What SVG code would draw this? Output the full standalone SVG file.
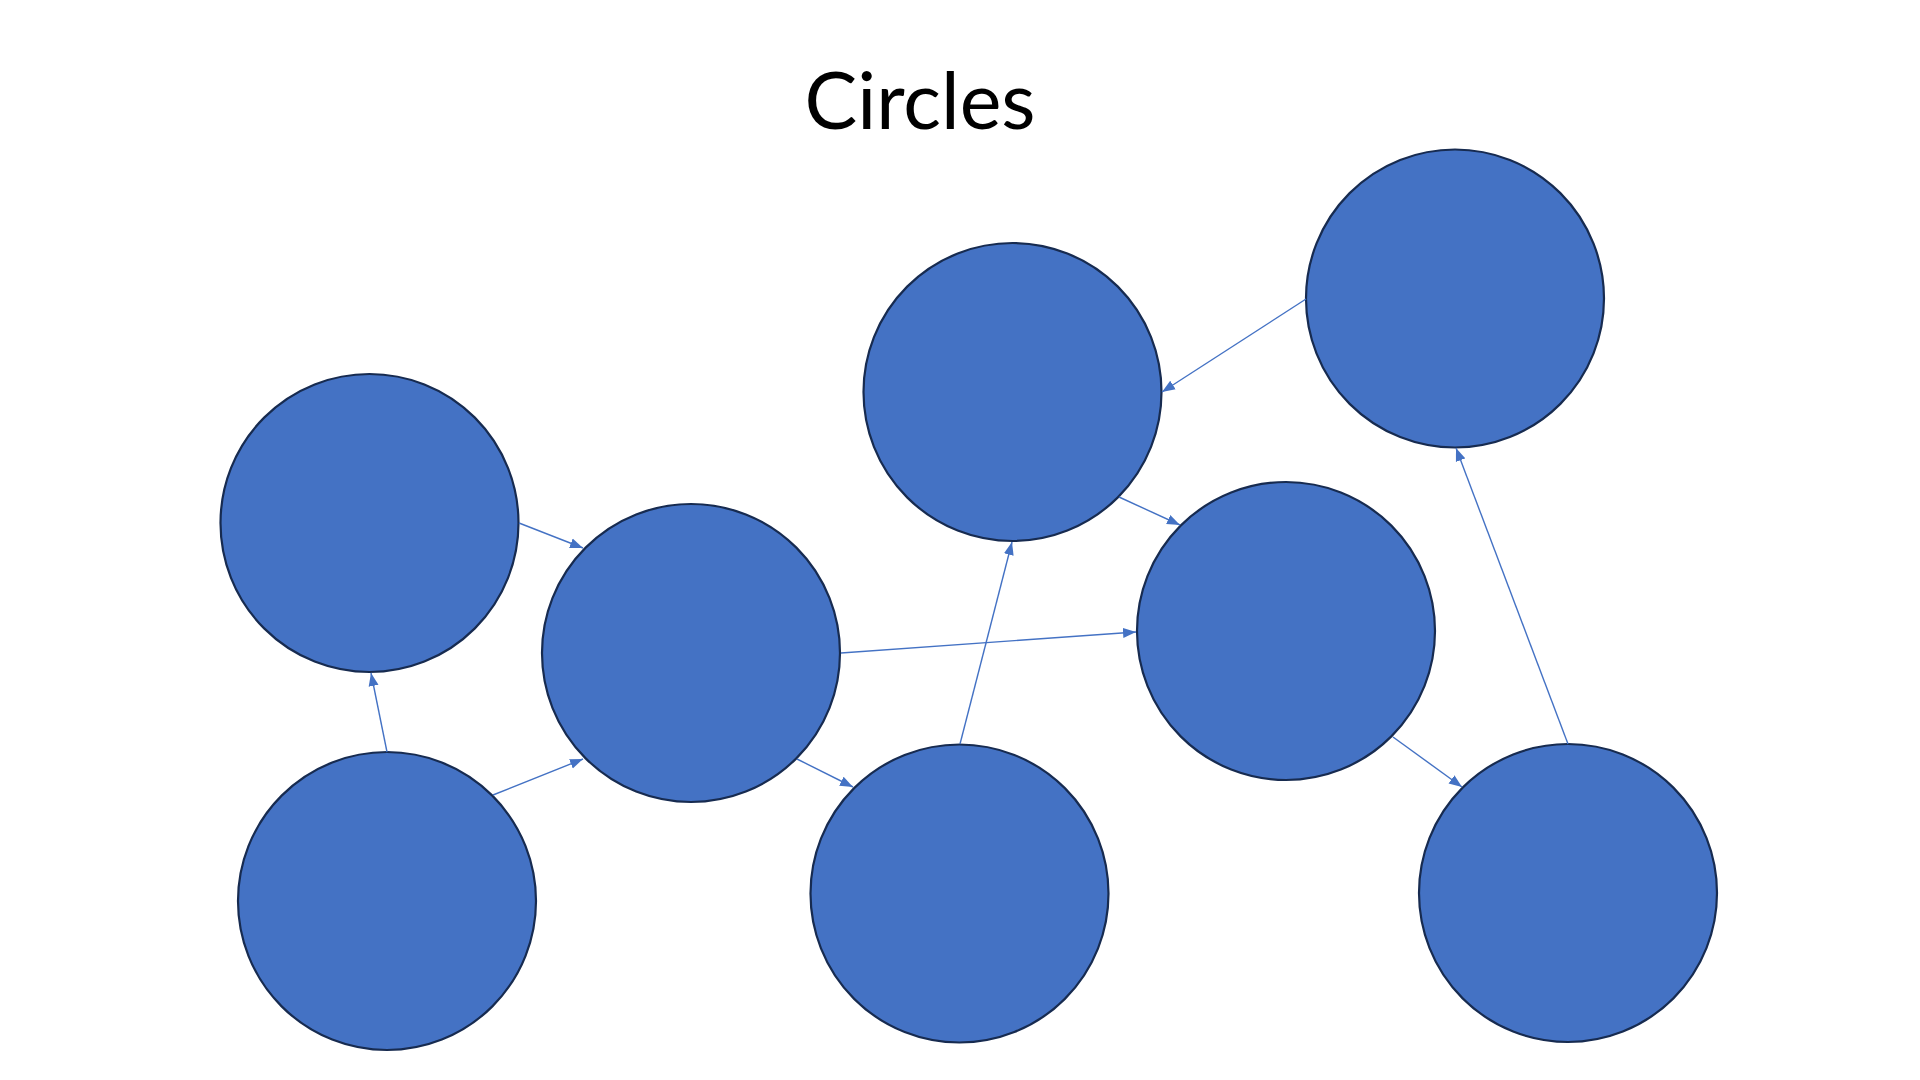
<svg xmlns="http://www.w3.org/2000/svg" width="1920" height="1080" viewBox="0 0 1920 1080">
<style>
.node{fill:#4472C4;stroke:#172B50;stroke-width:2.2}
.edge{stroke:#4472C4;stroke-width:1.4;fill:none;marker-end:url(#arr)}
.title{font-family:Lato,"Open Sans","Liberation Sans",sans-serif;font-weight:400;font-size:79px;fill:#000}
</style>
<defs>
<marker id="arr" markerUnits="userSpaceOnUse" markerWidth="14" markerHeight="11" refX="13" refY="5" orient="auto" viewBox="0 0 14 10">
<path d="M0,0 L13,5 L0,10 z" fill="#4472C4"/>
</marker>
</defs>
<rect width="1920" height="1080" fill="#fff"/>
<text class="title" x="920" y="129" text-anchor="middle">Circles</text>
<g id="n1"><circle class="node" cx="369.5" cy="523" r="149"/></g>
<g id="n2"><circle class="node" cx="691" cy="653" r="149"/></g>
<g id="n3"><circle class="node" cx="387" cy="901" r="149"/></g>
<g id="n4"><circle class="node" cx="1012.5" cy="392" r="149"/></g>
<g id="n5"><circle class="node" cx="1455" cy="298.5" r="149"/></g>
<g id="n6"><circle class="node" cx="1286" cy="631" r="149"/></g>
<g id="n7"><circle class="node" cx="959.5" cy="893.5" r="149"/></g>
<g id="n8"><circle class="node" cx="1568" cy="893" r="149"/></g>
<g id="connectors">
<line class="edge" x1="519" y1="523" x2="583" y2="548"/>
<line class="edge" x1="387" y1="752" x2="371" y2="673"/>
<line class="edge" x1="493" y1="795" x2="583" y2="759"/>
<line class="edge" x1="841" y1="653" x2="1136" y2="632"/>
<line class="edge" x1="797" y1="759" x2="853" y2="787"/>
<line class="edge" x1="960" y1="744" x2="1012" y2="542"/>
<line class="edge" x1="1306" y1="299" x2="1162" y2="392"/>
<line class="edge" x1="1119" y1="497" x2="1180" y2="525"/>
<line class="edge" x1="1393" y1="737" x2="1462" y2="787"/>
<line class="edge" x1="1568" y1="744" x2="1456" y2="448"/>
</g>
</svg>
